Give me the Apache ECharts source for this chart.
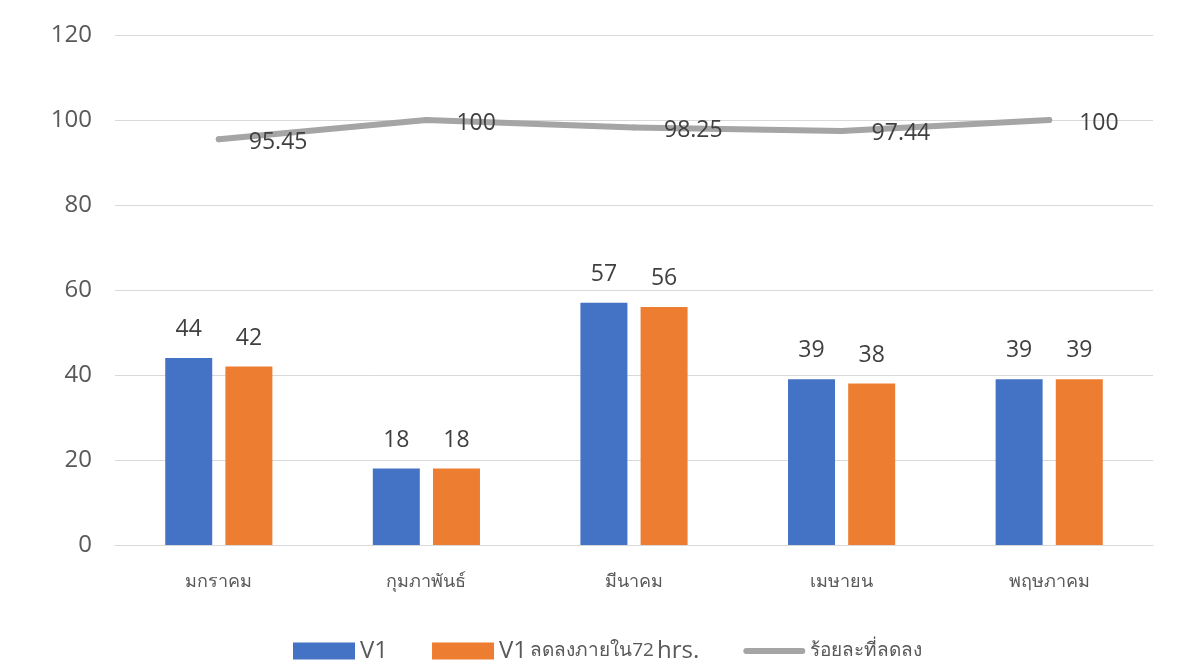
<!DOCTYPE html>
<html>
<head>
<meta charset="utf-8">
<script src="https://cdn.jsdelivr.net/npm/echarts@6/dist/echarts.min.js"></script>
<style>
  html, body { margin: 0; padding: 0; background: #fff; }
  #chart { width: 1182px; height: 667px; }
</style>
</head>
<body>
<div id="chart"></div>
<script>
// Monthly counts and the percentage reduced within 72 hours
const months = ['มกราคม', 'กุมภาพันธ์', 'มีนาคม', 'เมษายน', 'พฤษภาคม'];
const v1Counts = [44, 18, 57, 39, 39];
const reducedCounts = [42, 18, 56, 38, 39];
const reducedPercent = [95.45, 100, 98.25, 97.44, 100];
const yTicks = { min: 0, max: 120, interval: 20 };

const FONT = '"Open Sans", "Noto Sans", "DejaVu Sans", sans-serif';
const GREY = '#a5a5a5';

// thick rounded stroke used as the line series legend key
const LINE_KEY = 'path://M0,0M62,17M3,5.5L59,5.5A3,3,0,0,1,59,11.5L3,11.5A3,3,0,0,1,3,5.5Z';

const legendNames = ['V1', 'V1 ลดลงภายใน72 hrs.', 'ร้อยละที่ลดลง'];

const chart = echarts.init(document.getElementById('chart'));
chart.setOption({
  backgroundColor: '#ffffff',
  animation: false,
  textStyle: { fontFamily: FONT },
  grid: { left: 115, right: 29, top: 35, bottom: 122, containLabel: false },
  legend: {
    left: 293,
    bottom: 4,
    padding: [0, 0, 0, 0],
    itemWidth: 62,
    itemHeight: 17,
    itemGap: 44,
    formatter: function (name) {
      if (name === legendNames[0]) return '{big|V1}';
      if (name === legendNames[1]) return '{big|V1} {small|ลดลงภายใน72} {big|hrs.}';
      return '{mid|' + name + '}';
    },
    textStyle: {
      color: '#595959',
      fontFamily: FONT,
      rich: {
        big: { fontSize: 24, color: '#595959', fontFamily: FONT },
        small: { fontSize: 19, color: '#595959', fontFamily: FONT },
        mid: { fontSize: 19, color: '#595959', fontFamily: FONT }
      }
    },
    data: [
      { name: legendNames[0], icon: 'rect' },
      { name: legendNames[1], icon: 'rect' },
      { name: legendNames[2], icon: LINE_KEY, itemStyle: { color: GREY } }
    ]
  },
  xAxis: {
    type: 'category',
    data: months,
    axisLine: { lineStyle: { color: '#d9d9d9', width: 1 } },
    axisTick: { show: false },
    axisLabel: { color: '#595959', fontSize: 18, margin: 28 }
  },
  yAxis: {
    type: 'value',
    min: yTicks.min,
    max: yTicks.max,
    interval: yTicks.interval,
    axisLine: { show: false },
    axisTick: { show: false },
    splitLine: { lineStyle: { color: '#d9d9d9', width: 1 } },
    axisLabel: { color: '#595959', fontSize: 24, margin: 23 }
  },
  series: [
    {
      name: legendNames[0],
      type: 'bar',
      data: v1Counts,
      barWidth: 47,
      barGap: '28%',
      itemStyle: { color: '#4472c4' },
      label: { show: true, position: 'top', distance: 17, fontSize: 23, color: '#404040' }
    },
    {
      name: legendNames[1],
      type: 'bar',
      data: reducedCounts,
      barWidth: 47,
      itemStyle: { color: '#ed7d31' },
      label: { show: true, position: 'top', distance: 17, fontSize: 23, color: '#404040' }
    },
    {
      name: legendNames[2],
      type: 'line',
      data: reducedPercent,
      symbol: 'circle',
      symbolSize: 6,
      showSymbol: true,
      lineStyle: { color: GREY, width: 6, cap: 'round', join: 'round' },
      itemStyle: { color: GREY },
      label: {
        show: true,
        position: 'right',
        distance: 27,
        offset: [0, 3],
        fontSize: 23,
        color: '#404040'
      },
      z: 5
    }
  ]
});
</script>
</body>
</html>
